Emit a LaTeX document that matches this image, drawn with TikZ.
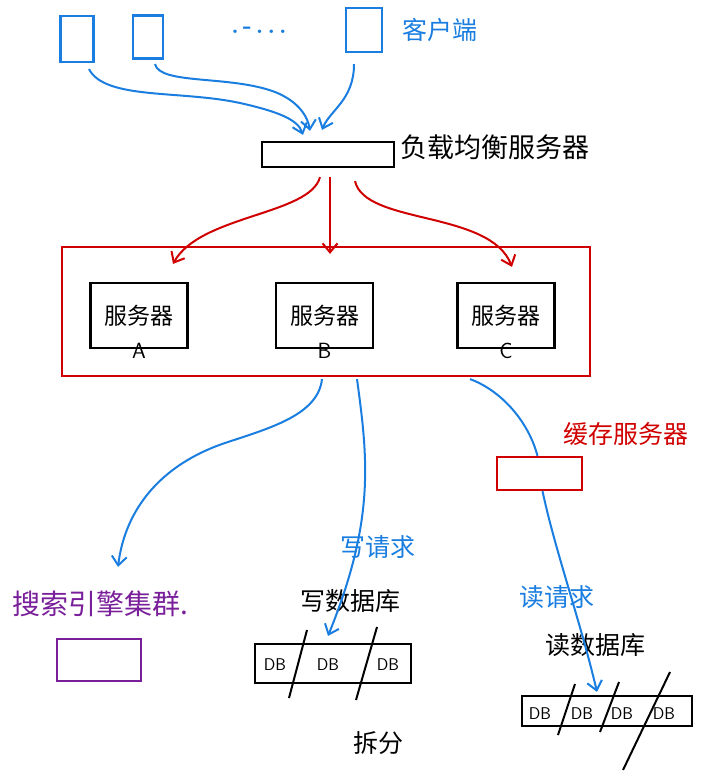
\documentclass[tikz,border=0pt]{standalone}
\usepackage{fontspec}
\newfontfamily\cjk{Noto Sans CJK SC}
\usetikzlibrary{arrows.meta}
\definecolor{hblue}{RGB}{26,126,224}
\definecolor{hred}{RGB}{208,0,0}
\definecolor{hpurple}{RGB}{122,31,154}
\begin{document}
\begin{tikzpicture}[x=1pt,y=-1pt,
  box/.style={draw,line width=2.2pt,inner sep=0pt},
  srv/.style={box,black,minimum width=97pt,minimum height=65pt,font=\cjk\fontsize{23}{25}\selectfont},
  conn/.style={line width=2pt,-{Straight Barb[length=9pt,width=15pt,line width=2pt]}},
  lbl/.style={font=\cjk\fontsize{25}{27}\selectfont,inner sep=0pt},
  dbt/.style={font=\sffamily\fontsize{17}{17}\selectfont,inner sep=0pt},
  abc/.style={font=\sffamily\fontsize{22}{22}\selectfont,inner sep=0pt},
  slash/.style={line width=2pt,black},
 ]
\useasboundingbox (0,0) rectangle (715,783);

% clients
\node[box,hblue,minimum width=33pt,minimum height=46pt] (c1) at (77,39) {};
\node[box,hblue,minimum width=30pt,minimum height=43pt] (c2) at (148,37) {};
\node[box,hblue,minimum width=36pt,minimum height=44pt] (c3) at (364,30) {};
\node[hblue,font=\bfseries\fontsize{24}{24}\selectfont,inner sep=0pt] (dots) at (259,30) {.\,-\,.\,.\,.};
\node[lbl,hblue,anchor=west] (clientlbl) at (402,30) {客户端};

% load balancer
\node[box,black,minimum width=132pt,minimum height=25pt] (lb) at (328,154.5) {};
\node[lbl,anchor=west,font=\cjk\fontsize{27}{29}\selectfont] (lblb) at (400,147) {负载均衡服务器};

% cluster
\node[box,hred,minimum width=528pt,minimum height=129pt] (cluster) at (326,311.5) {};
\node[srv] (sA) at (139,315.5) {服务器};
\node[srv] (sB) at (324.5,315.5) {服务器};
\node[srv] (sC) at (506,315.5) {服务器};
\node[abc] (lA) at ([yshift=-2pt]sA.south) {A};
\node[abc] (lB) at ([yshift=-2pt]sB.south) {B};
\node[abc] (lC) at ([yshift=-2pt]sC.south) {C};

% cache
\node[box,hred,minimum width=85pt,minimum height=33pt] (cache) at (539.5,473.5) {};
\node[lbl,hred,anchor=west] (cachelbl) at (563,434) {缓存服务器};

% search cluster
\node[box,hpurple,minimum width=84pt,minimum height=42pt] (search) at (99,660) {};
\node[lbl,hpurple,anchor=west,font=\cjk\fontsize{28}{30}\selectfont] (searchlbl) at (12,604) {搜索引擎集群.};

% write db
\node[box,black,minimum width=156pt,minimum height=39pt] (wdb) at (333,663.5) {};
\node[dbt] (w1) at (275,665) {DB};
\node[dbt] (w2) at (328,665) {DB};
\node[dbt] (w3) at (388,665) {DB};
\draw[slash] (307,630) -- (289,698);
\draw[slash] (377,627) -- (356,700);
\node[lbl] (wlbl) at (350,601) {写数据库};
\node[lbl,hblue] (wreq) at (378,547) {写请求};
\node[lbl] (split) at (378,743) {拆分};

% read db
\node[box,black,minimum width=170pt,minimum height=30pt] (rdb) at (607,711) {};
\node[dbt] (r1) at (540,714) {DB};
\node[dbt] (r2) at (582,714) {DB};
\node[dbt] (r3) at (622,714) {DB};
\node[dbt] (r4) at (664,714) {DB};
\draw[slash] (575,684) -- (558,735);
\draw[slash] (619,682) -- (600,732);
\draw[slash] (670,672) -- (623,770);
\node[lbl] (rlbl) at (595,645) {读数据库};
\node[lbl,hblue] (rreq) at (557,597) {读请求};

% client -> lb
\draw[conn,hblue] ([shift={(12,6)}]c1.south) .. controls (105,100) and (180,90) .. (240,103) .. controls (280,112) and (298,120) .. ([shift={(-25,-6)}]lb.north);
\draw[conn,hblue] ([shift={(7,4.5)}]c2.south) .. controls (160,85) and (230,75) .. (275,92) .. controls (300,102) and (308,118) .. ([shift={(-18,-10)}]lb.north);
\draw[conn,hblue] ([shift={(-10,11)}]c3.south) .. controls (354,100) and (330,110) .. ([shift={(-6,-11)}]lb.north);

% lb -> servers
\draw[conn,hred] ([shift={(-8,9)}]lb.south) .. controls (310,215) and (200,215) .. ([shift={(-153,18)}]cluster.north);
\draw[conn,hred] ([shift={(2,9)}]lb.south) -- ([shift={(4,8)}]cluster.north);
\draw[conn,hred] ([shift={(27,13)}]lb.south) .. controls (365,225) and (490,210) .. ([shift={(186,21)}]cluster.north);

% cluster -> outputs
\draw[conn,hblue] ([shift={(-4,2)}]cluster.south) .. controls (318,415) and (270,428) .. (225,443) .. controls (160,465) and (125,510) .. ([shift={(19,-71)}]search.north);
\draw[conn,hblue] ([shift={(31,2)}]cluster.south) .. controls (368,460) and (375,520) .. ([shift={(-5,-7)}]wdb.north);
\draw[line width=2pt,hblue] ([shift={(144,2)}]cluster.south) .. controls (500,390) and (528,420) .. ([shift={(-2,0)}]cache.north);
\draw[conn,hblue] ([shift={(3,0)}]cache.south) .. controls (555,550) and (580,620) .. ([shift={(-10,-3)}]rdb.north);
\end{tikzpicture}
\end{document}
